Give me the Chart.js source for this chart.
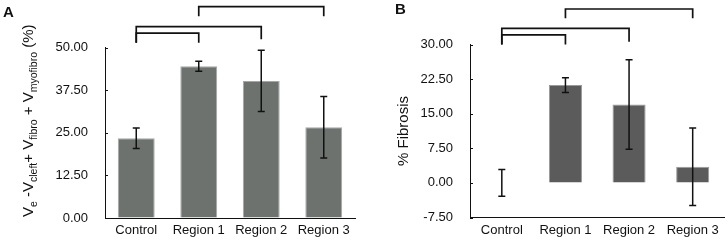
<!DOCTYPE html>
<html>
<head>
<meta charset="utf-8">
<script src="https://cdn.jsdelivr.net/npm/chart.js@4.4.1/dist/chart.umd.min.js"></script>
<style>
  body { margin: 0; background: #fff; }
  .panel { position: absolute; top: 0; width: 364px; height: 244px; }
</style>
</head>
<body>
<div class="panel" style="left:0"><canvas id="chartA"></canvas></div>
<div class="panel" style="left:364px"><canvas id="chartB"></canvas></div>
<script>
// data
const categories = ['Control', 'Region 1', 'Region 2', 'Region 3'];

const fluidMeans = [23.4, 44.5, 40.2, 26.6];
const fluidErrors = [3.0, 1.5, 9.0, 9.0];
const fluidTicks = [0, 12.5, 25, 37.5, 50];
// [from, to, bar height, left leg end, right leg end] in axis units
const fluidBrackets = [[0, 1, 54.2, 51.4, 51.4], [0, 2, 56.1, 51.4, 52.4], [1, 3, 62.0, 59.2, 59.2]];

const fibrosisMeans = [0, 21.2, 17.0, 3.5];
const fibrosisErrors = [2.9, 1.6, 9.7, 8.4];
const fibrosisTicks = [-7.5, 0, 7.5, 15, 22.5, 30];
const fibrosisBrackets = [[0, 1, 32.1, 30.0, 30.0], [0, 2, 33.5, 30.0, 30.6], [1, 3, 37.7, 35.7, 35.7]];

const FONT = '"Liberation Sans", Arial, Helvetica, sans-serif';
Chart.defaults.font.family = FONT;
Chart.defaults.color = '#111';

const fluidTitle = [
    { t: 'V' }, { t: 'e', sub: true }, { t: ' -V' }, { t: 'cleft', sub: true },
    { t: '+ V' }, { t: 'fibro', sub: true }, { t: ' + V' }, { t: 'myofibro', sub: true }, { t: ' (%)' }
];
const fibrosisTitle = [{ t: '% Fibrosis' }];

function drawRichVertical(ctx, parts, x, y, size, subSize, centered) {
    ctx.save();
    ctx.translate(x, y);
    ctx.rotate(-Math.PI / 2);
    ctx.fillStyle = '#111';
    ctx.textBaseline = 'alphabetic';
    ctx.textAlign = 'left';
    let total = 0;
    parts.forEach(p => {
        ctx.font = (p.sub ? subSize : size) + 'px ' + FONT;
        p.w = ctx.measureText(p.t).width;
        total += p.w;
    });
    let pos = centered ? -total / 2 : 0;
    parts.forEach(p => {
        ctx.font = (p.sub ? subSize : size) + 'px ' + FONT;
        ctx.fillText(p.t, pos, p.sub ? 4 : 0);
        pos += p.w;
    });
    ctx.restore();
}

function overlay(cfg) {
    return {
        id: 'overlay',
        afterDatasetsDraw(chart) {
            const ctx = chart.ctx;
            const xs = chart.scales.x, ys = chart.scales.y;
            ctx.save();
            ctx.strokeStyle = '#111';
            ctx.lineWidth = 1.5;
            // error bars
            cfg.means.forEach((m, i) => {
                const x = xs.getPixelForValue(i);
                const hi = ys.getPixelForValue(m + cfg.errors[i]);
                const lo = ys.getPixelForValue(m - cfg.errors[i]);
                ctx.beginPath();
                ctx.moveTo(x, hi); ctx.lineTo(x, lo);
                ctx.moveTo(x - 3.5, hi); ctx.lineTo(x + 3.5, hi);
                ctx.moveTo(x - 3.5, lo); ctx.lineTo(x + 3.5, lo);
                ctx.stroke();
            });
            // significance brackets
            ctx.lineWidth = 1.7;
            cfg.brackets.forEach(b => {
                const x1 = xs.getPixelForValue(b[0]), x2 = xs.getPixelForValue(b[1]);
                ctx.beginPath();
                ctx.moveTo(x1, ys.getPixelForValue(b[3]));
                ctx.lineTo(x1, ys.getPixelForValue(b[2]));
                ctx.lineTo(x2, ys.getPixelForValue(b[2]));
                ctx.lineTo(x2, ys.getPixelForValue(b[4]));
                ctx.stroke();
            });
            // inward tick marks
            ctx.lineWidth = 1;
            ys.ticks.forEach(t => {
                const y = Math.round(ys.getPixelForValue(t.value)) + 0.5;
                ctx.beginPath();
                ctx.moveTo(chart.chartArea.left, y);
                ctx.lineTo(chart.chartArea.left + 3, y);
                ctx.stroke();
            });
            ctx.restore();
            // axis title and panel letter
            drawRichVertical(ctx, cfg.title, cfg.titleX, cfg.titleY, cfg.titleSize, cfg.subSize, cfg.centered);
            ctx.save();
            ctx.font = 'bold 15px ' + FONT;
            ctx.fillStyle = '#111';
            ctx.textBaseline = 'top';
            ctx.fillText(cfg.letter, cfg.letterX, cfg.letterY);
            ctx.restore();
        }
    };
}

function makeChart(id, means, ticks, fill, border, barPct, pad, axisW, axisH, plugin) {
    return new Chart(document.getElementById(id), {
        type: 'bar',
        data: {
            labels: categories,
            datasets: [{
                data: means,
                backgroundColor: fill,
                borderColor: border,
                borderWidth: 1,
                barPercentage: barPct,
                categoryPercentage: 1
            }]
        },
        options: {
            responsive: true,
            maintainAspectRatio: false,
            animation: false,
            layout: { padding: pad },
            plugins: { legend: { display: false }, tooltip: { enabled: false } },
            scales: {
                x: {
                    grid: { display: true, drawOnChartArea: false, drawTicks: false },
                    border: { display: true, color: '#111', width: 1 },
                    ticks: { font: { size: 13 }, color: '#111', padding: 5 },
                    afterFit: s => { s.height = axisH; }
                },
                y: {
                    min: ticks[0],
                    max: ticks[ticks.length - 1],
                    afterBuildTicks: s => { s.ticks = ticks.map(v => ({ value: v })); },
                    grid: { display: true, drawOnChartArea: false, drawTicks: false },
                    border: { display: true, color: '#111', width: 1 },
                    ticks: { font: { size: 13 }, color: '#111', padding: 17, callback: v => Number(v).toFixed(2) },
                    afterFit: s => { s.width = axisW; }
                }
            }
        },
        plugins: [plugin]
    });
}

makeChart('chartA', fluidMeans, fluidTicks, '#6d726f', '#a4a8a5', 0.59,
    { top: 47.5, right: 9, bottom: 0, left: 0 }, 105, 26,
    overlay({ means: fluidMeans, errors: fluidErrors, brackets: fluidBrackets,
        title: fluidTitle, titleX: 33, titleY: 217, titleSize: 15, subSize: 10.5, centered: false,
        letter: 'A', letterX: 3, letterY: 5 }));

makeChart('chartB', fibrosisMeans, fibrosisTicks, '#5b5b5b', '#9a9a9a', 0.52,
    { top: 44.5, right: 3.5, bottom: 0, left: 0 }, 106, 26.5,
    overlay({ means: fibrosisMeans, errors: fibrosisErrors, brackets: fibrosisBrackets,
        title: fibrosisTitle, titleX: 44, titleY: 131, titleSize: 15, subSize: 11, centered: true,
        letter: 'B', letterX: 31, letterY: 2 }));
</script>
</body>
</html>
